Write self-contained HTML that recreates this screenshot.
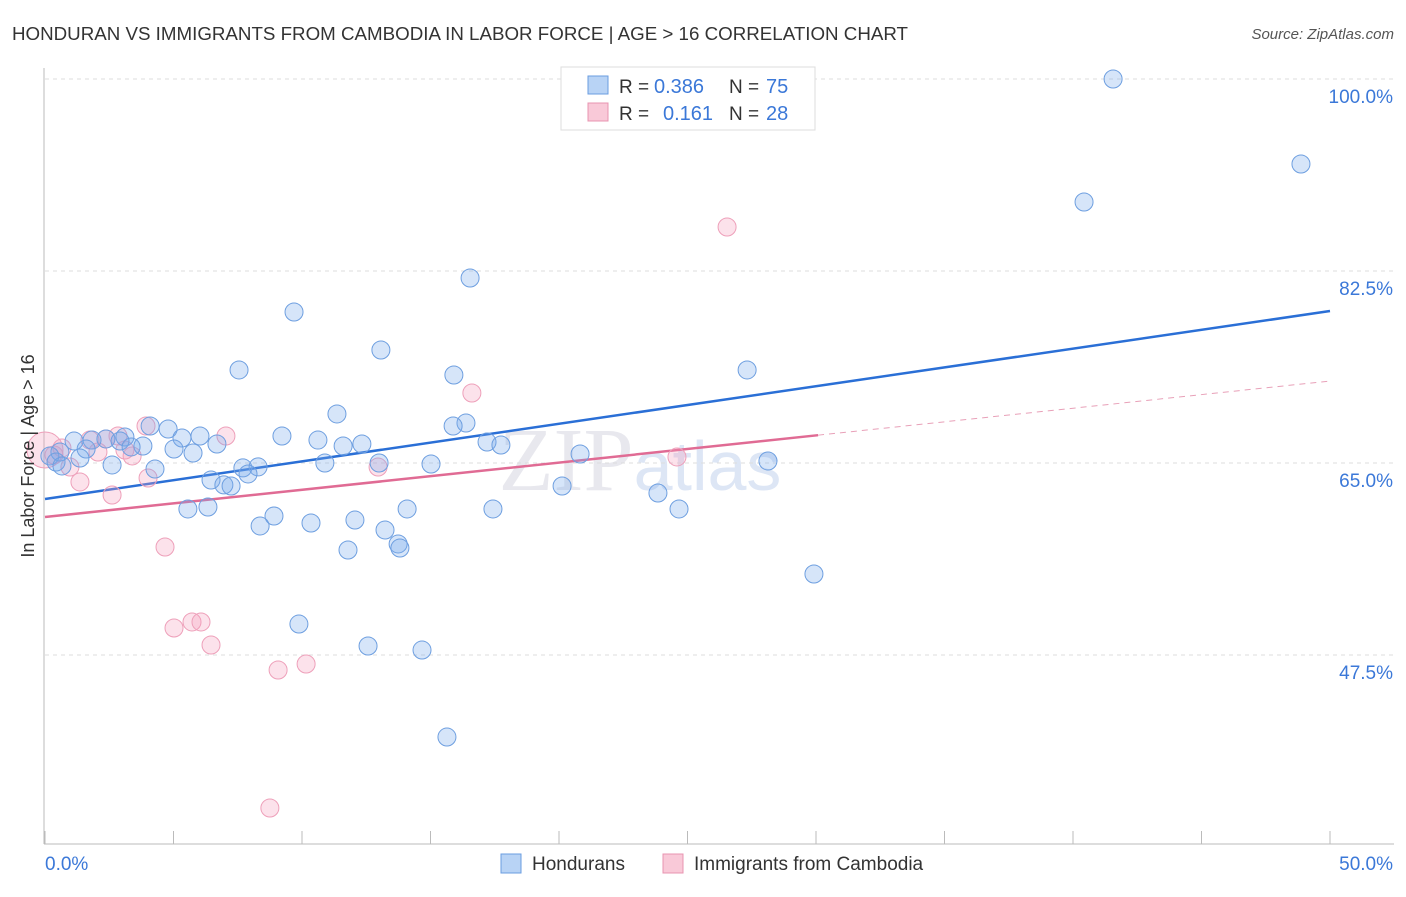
<!DOCTYPE html>
<html><head><meta charset="utf-8"><style>
body{margin:0;background:#fff;font-family:"Liberation Sans",sans-serif;}
</style></head><body>
<svg width="1406" height="892" xmlns="http://www.w3.org/2000/svg" font-family="Liberation Sans, sans-serif">
<text x="12" y="40" font-size="18" fill="#333" textLength="896" lengthAdjust="spacingAndGlyphs">HONDURAN VS IMMIGRANTS FROM CAMBODIA IN LABOR FORCE | AGE &gt; 16 CORRELATION CHART</text>
<text x="1394" y="39" font-size="15" fill="#555" font-style="italic" text-anchor="end">Source: ZipAtlas.com</text>
<text x="640" y="490" font-size="90" fill="#e8e8ee" font-family="Liberation Serif, serif" text-anchor="middle">ZIP<tspan fill="#dde6f5" font-family="Liberation Sans, sans-serif" font-size="70">atlas</tspan></text>
<g id="grid"></g>
<g id="axes"></g>
<g id="lines"></g>
<g id="pts"></g>
<text transform="translate(34,456) rotate(-90)" font-size="18" fill="#333" text-anchor="middle">In Labor Force | Age &gt; 16</text>
<text x="45" y="870" font-size="19" fill="#3b78d8">0.0%</text>
<text x="1393" y="870" font-size="19" fill="#3b78d8" text-anchor="end">50.0%</text>
<g>
<rect x="561" y="67" width="254" height="63" fill="#fff" stroke="#ddd"/>
<rect x="588" y="76" width="20" height="18" fill="#b8d3f5" stroke="#6a9de0"/>
<rect x="588" y="103" width="20" height="18" fill="#f9c9d8" stroke="#e894b0"/>
<text x="619" y="93" font-size="19" fill="#333">R =</text>
<text x="654" y="93" font-size="20" fill="#3b78d8">0.386</text>
<text x="729" y="93" font-size="19" fill="#333">N =</text>
<text x="766" y="93" font-size="20" fill="#3b78d8">75</text>
<text x="619" y="120" font-size="19" fill="#333">R =</text>
<text x="663" y="120" font-size="20" fill="#3b78d8">0.161</text>
<text x="729" y="120" font-size="19" fill="#333">N =</text>
<text x="766" y="120" font-size="20" fill="#3b78d8">28</text>
</g>
<g>
<rect x="501" y="854" width="20" height="19" fill="#b8d3f5" stroke="#6a9de0"/>
<text x="532" y="870" font-size="19" fill="#333">Hondurans</text>
<rect x="663" y="854" width="20" height="19" fill="#f9c9d8" stroke="#e894b0"/>
<text x="694" y="870" font-size="19" fill="#333">Immigrants from Cambodia</text>
</g>
</svg>
<script>
const yTicks=[100,82.5,65,47.5];
const yTickLabels=["100.0%","82.5%","65.0%","47.5%"];
const xTicks=[0,5,10,15,20,25,30,35,40,45,50];
const blueX=[41.56,48.87,40.43,16.54,9.69,13.07,7.55,15.91,27.32,11.36,16.38,15.88,4.09,4.79,3.11,2.37,1.13,1.83,2.92,5.33,6.03,9.22,10.62,11.6,12.33,17.2,17.74,6.69,5.02,5.76,3.81,3.35,1.6,0.58,0.19,1.36,0.43,0.66,2.61,4.28,7.7,8.29,7.9,10.89,13.0,15.02,20.82,28.13,6.46,6.96,7.24,20.12,23.85,5.56,6.34,8.91,8.37,10.35,12.06,13.23,14.09,17.43,24.67,11.79,13.74,13.81,9.88,12.57,14.67,15.64,29.92];
const blueY=[100,92.25,88.79,81.86,78.76,75.3,73.48,73.02,73.48,69.47,68.64,68.37,68.37,68.1,67.37,67.19,67.0,67.09,67.0,67.28,67.46,67.46,67.09,66.55,66.73,66.91,66.64,66.73,66.27,65.91,66.55,66.46,66.27,66.0,65.64,65.45,65.09,64.73,64.82,64.45,64.55,64.64,64.0,65.0,65.0,64.91,65.82,65.18,63.45,63.0,62.9,62.9,62.26,60.81,60.99,60.17,59.26,59.53,59.8,58.89,60.81,60.81,60.81,57.07,57.62,57.25,50.32,48.32,47.95,40.02,54.88];
const pinkX=[0,0.35,0.66,0.97,1.36,1.75,2.06,2.37,2.61,3.11,3.39,3.93,4.01,4.67,5.02,5.72,6.07,6.46,7.04,9.07,8.75,10.16,12.96,16.61,26.54,24.59,2.84];
const pinkY=[66.18,65.73,66.37,64.63,63.27,67.09,66.0,67.19,62.08,66.18,65.64,68.37,63.63,57.34,49.96,50.51,50.51,48.41,67.46,46.13,33.55,46.68,64.63,71.38,86.51,65.55,67.46];
const blueTrend=[61.72,78.85];
const pinkTrend=[60.08,72.47];
const pinkSolidEnd=30.08;
const NS="http://www.w3.org/2000/svg";
const X=v=>45+v*25.7, Y=v=>79+(100-v)*10.971;
function mk(tag,at,parent){const e=document.createElementNS(NS,tag);for(const k in at)e.setAttribute(k,at[k]);document.getElementById(parent).appendChild(e);return e;}
yTicks.forEach((t,i)=>{
 const l=mk('line',{x1:45,x2:1394,y1:Y(t),y2:Y(t),stroke:'#ddd','stroke-dasharray':'4,4'},'grid');
 
 
 const tx=mk('text',{x:1393,y:Y(t)+24,'font-size':19,fill:'#3b78d8','text-anchor':'end'},'grid');
 tx.textContent=yTickLabels[i];
 
 
});
let a=mk('line',{x1:44,x2:44,y1:68,y2:844,stroke:'#bbb'},'axes');


a=mk('line',{x1:44,x2:1394,y1:844,y2:844,stroke:'#bbb'},'axes');


xTicks.forEach(t=>{const k=mk('line',{x1:X(t),x2:X(t),y1:831,y2:844,stroke:'#bbb'},'axes');
 
 });
let tl=mk('line',{x1:X(0),y1:Y(blueTrend[0]),x2:X(50),y2:Y(blueTrend[1]),stroke:'#2a6fd6','stroke-width':2.5},'lines');


const py=x=>pinkTrend[0]+(pinkTrend[1]-pinkTrend[0])*x/50;
tl=mk('line',{x1:X(0),y1:Y(py(0)),x2:X(pinkSolidEnd),y2:Y(py(pinkSolidEnd)),stroke:'#e06b94','stroke-width':2.5},'lines');


tl=mk('line',{x1:X(pinkSolidEnd),y1:Y(py(pinkSolidEnd)),x2:X(50),y2:Y(py(50)),stroke:'#e8a0b8','stroke-width':1,'stroke-dasharray':'6,5'},'lines');


pinkX.forEach((x,i)=>{const c=mk('circle',{cx:X(x),cy:Y(pinkY[i]),r:i==0?18:9,fill:'rgba(244,160,188,0.3)',stroke:'#eea0ba','stroke-width':1},'pts');
 
 });
blueX.forEach((x,i)=>{const c=mk('circle',{cx:X(x),cy:Y(blueY[i]),r:9,fill:'rgba(120,170,235,0.3)',stroke:'#6e9fe0','stroke-width':1},'pts');
 
 });
</script>
</body></html>
